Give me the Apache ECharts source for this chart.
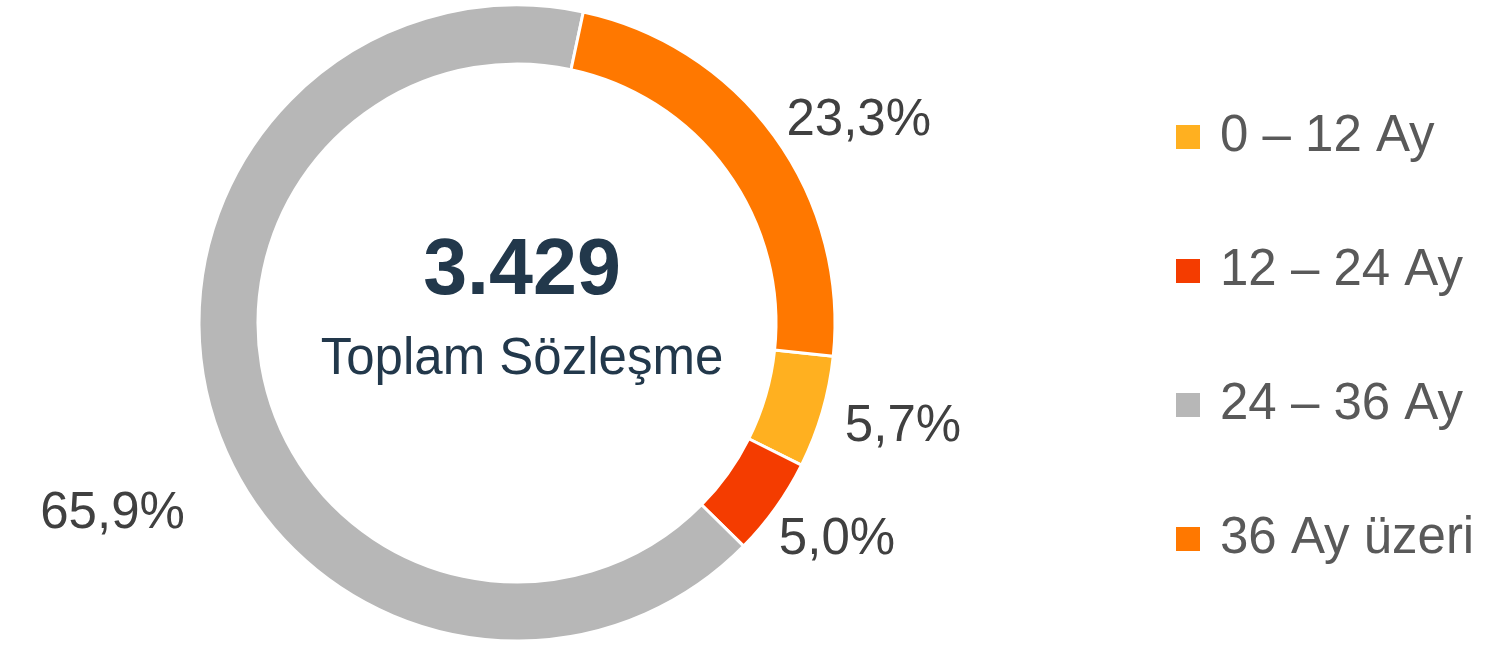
<!DOCTYPE html>
<html>
<head>
<meta charset="utf-8">
<script src="https://cdn.jsdelivr.net/npm/echarts@6/dist/echarts.min.js"></script>
<style>
  html, body { margin: 0; padding: 0; background: #fff; }
  #chart { width: 1511px; height: 647px; }
</style>
</head>
<body>
<div id="chart"></div>
<script>
// vade dağılımı (sözleşme payları, %)
const categories = ['0 – 12 Ay', '12 – 24 Ay', '24 – 36 Ay', '36 Ay üzeri']
const shares = [5.7, 5.0, 65.9, 23.3]
const colors = ['#FFB020', '#F43C00', '#B7B7B7', '#FF7800']
const totalValue = '3.429'
const totalLabel = 'Toplam Sözleşme'

// small label nudges so labels sit where the original put them
const labelNudge = [[8, 12], [-10, 26], [-13, 97], [-1, -9]]

// no narrow face installed, so sizes are picked to match the original text widths
const FONT = "'Liberation Sans Narrow', 'Arial Narrow', 'Liberation Sans', sans-serif"

const chart = echarts.init(document.getElementById('chart'))

chart.setOption({
  animation: false,
  color: colors,
  title: [
    {
      text: totalValue,
      left: 517, top: 228, textAlign: 'center',
      textStyle: { fontFamily: FONT, fontSize: 79, fontWeight: 'bold', color: '#22384B', lineHeight: 79 }
    },
    {
      text: totalLabel,
      left: 517, top: 329, textAlign: 'center',
      textStyle: { fontFamily: FONT, fontSize: 51, fontWeight: 'normal', color: '#22384B', lineHeight: 51 }
    }
  ],
  legend: {
    orient: 'vertical',
    left: 1174, top: 106,
    padding: 0,
    icon: 'rect',
    itemWidth: 26, itemHeight: 26,
    itemGap: 72,
    data: categories,
    textStyle: { fontFamily: FONT, fontSize: 51, color: '#595959', lineHeight: 62, padding: [0, 0, 0, 14] }
  },
  series: [{
    type: 'pie',
    center: [517, 323],
    radius: [259, 318],
    startAngle: -6,
    clockwise: true,
    avoidLabelOverlap: false,
    itemStyle: { borderColor: '#fff', borderWidth: 3 },
    label: {
      show: true,
      position: 'outside',
      fontFamily: FONT,
      fontSize: 51,
      color: '#404040',
      formatter: p => p.value.toFixed(1).replace('.', ',') + '%'
    },
    labelLine: { show: false, length: 10, length2: 0 },
    labelLayout: p => ({ dx: labelNudge[p.dataIndex][0], dy: labelNudge[p.dataIndex][1] }),
    emphasis: { disabled: true },
    data: categories.map((name, i) => ({ name, value: shares[i] }))
  }]
})
</script>
</body>
</html>
